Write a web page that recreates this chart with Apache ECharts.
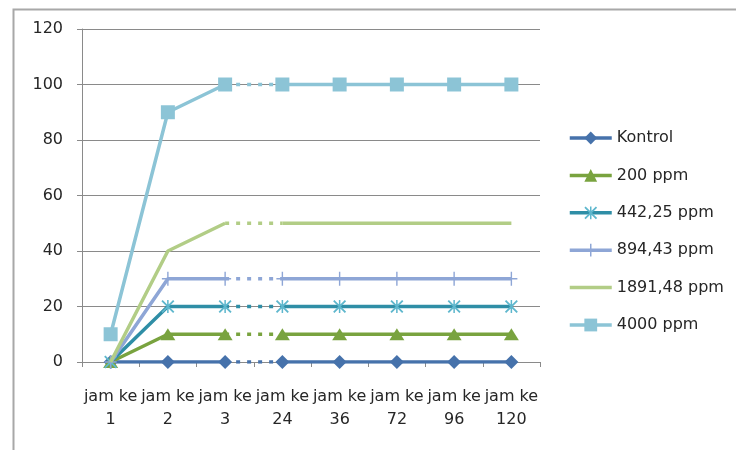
<!DOCTYPE html>
<html>
<head>
<meta charset="utf-8">
<script src="https://cdn.jsdelivr.net/npm/echarts@6/dist/echarts.min.js"></script>
<style>html,body{margin:0;padding:0;background:#fff;}#c{width:736px;height:450px;}</style>
</head>
<body>
<div id="c"></div>
<script>
const categories = ['jam ke 1', 'jam ke 2', 'jam ke 3', 'jam ke 24', 'jam ke 36', 'jam ke 72', 'jam ke 96', 'jam ke 120'];
const yTicks = [0, 20, 40, 60, 80, 100, 120];
const seriesNames = ['Kontrol', '200 ppm', '442,25 ppm', '894,43 ppm', '1891,48 ppm', '4000 ppm'];
const kontrol = [0, 0, 0, 0, 0, 0, 0, 0];
const ppm200 = [0, 10, 10, 10, 10, 10, 10, 10];
const ppm442 = [0, 20, 20, 20, 20, 20, 20, 20];
const ppm894 = [0, 30, 30, 30, 30, 30, 30, 30];
const ppm1891 = [0, 40, 50, 50, 50, 50, 50, 50];
const ppm4000 = [10, 90, 100, 100, 100, 100, 100, 100];
// break between index 2 and 3 (jam ke 3 -> jam ke 24) is drawn dotted
const breakAfter = 2;

const valuesList = [kontrol, ppm200, ppm442, ppm894, ppm1891, ppm4000];
const FONT = 'DejaVu Sans';
const styles = [
  { color: '#4672ab', mcolor: '#4672ab', symbol: 'diamond', size: 14 },
  { color: '#79a33f', mcolor: '#79a33f', symbol: 'triangle', size: [15, 12] },
  { color: '#2f8ea6', mcolor: '#5eb7cd', symbol: 'path://M0,1.2L1.2,0L12,10.8L10.8,12Z M10.8,0L12,1.2L1.2,12L0,10.8Z M5.3,0H6.7V12H5.3Z', size: 13 },
  { color: '#8ea6d6', mcolor: '#8ea6d6', symbol: 'path://M5.3,0H6.7V12H5.3Z M0,5.3H12V6.7H0Z', size: [12, 14] },
  { color: '#b2cd86', mcolor: '#b2cd86', symbol: 'none', size: 0 },
  { color: '#8cc4d6', mcolor: '#8cc4d6', symbol: 'rect', size: 14 }
];

const series = [];
valuesList.forEach((vals, i) => {
  const st = styles[i];
  const partA = vals.map((v, k) => (k <= breakAfter ? v : '-'));
  const partB = vals.map((v, k) => (k > breakAfter ? v : '-'));
  const partD = vals.map((v, k) => (k === breakAfter || k === breakAfter + 1 ? v : '-'));
  const common = {
    type: 'line',
    name: seriesNames[i],
    symbol: st.symbol,
    symbolSize: st.size,
    showSymbol: st.symbol !== 'none',
    animation: false,
    itemStyle: { color: st.mcolor, opacity: 1 },
    lineStyle: { color: st.color, width: 3.5 },
    z: 3 + i
  };
  series.push(Object.assign({}, common, { data: partA }));
  series.push(Object.assign({}, common, { data: partB }));
  series.push(Object.assign({}, common, {
    data: partD, symbol: 'none', showSymbol: false, z: 2,
    lineStyle: { color: st.color, width: 3.5, type: [4, 7], cap: 'butt' }
  }));
});

const legendData = seriesNames.map((n, i) => (styles[i].symbol === 'none'
  ? { name: n, itemStyle: { opacity: 0 } }
  : { name: n }));

const chart = echarts.init(document.getElementById('c'), null, { renderer: 'canvas' });
chart.setOption({
  backgroundColor: '#ffffff',
  animation: false,
  textStyle: { fontFamily: FONT },
  graphic: [{
    type: 'rect', left: 11, top: 7, silent: true,
    shape: { width: 800, height: 500 },
    style: { fill: 'none', stroke: '#a8a8a8', lineWidth: 2 }
  }],
  grid: { left: 82, right: 196, top: 29, bottom: 88, containLabel: false },
  legend: {
    orient: 'vertical', left: 568, top: 130, padding: 0,
    itemWidth: 42, itemHeight: 16, itemGap: 21.4,
    data: legendData,
    lineStyle: { width: 3.5 },
    textStyle: { fontFamily: FONT, fontSize: 16, color: '#262626' },
    selectedMode: false
  },
  xAxis: {
    type: 'category', data: categories, boundaryGap: true,
    axisLine: { lineStyle: { color: '#8a8a8a', width: 1 } },
    axisTick: { show: true, interval: 0, length: 5, lineStyle: { color: '#8a8a8a' } },
    axisLabel: {
      interval: 0, margin: 23, color: '#262626', fontFamily: FONT, fontSize: 16, lineHeight: 23,
      formatter: v => v.replace(/ (\d+)$/, '\n$1')
    }
  },
  yAxis: {
    type: 'value', min: yTicks[0], max: yTicks[yTicks.length - 1], interval: yTicks[1] - yTicks[0],
    axisLine: { show: true, lineStyle: { color: '#8a8a8a', width: 1 } },
    axisTick: { show: true, length: 5, lineStyle: { color: '#8a8a8a' } },
    axisLabel: { margin: 19, color: '#262626', fontFamily: FONT, fontSize: 16 },
    splitLine: { show: true, lineStyle: { color: '#8a8a8a', width: 1 } }
  },
  series: series
});
</script>
</body>
</html>
